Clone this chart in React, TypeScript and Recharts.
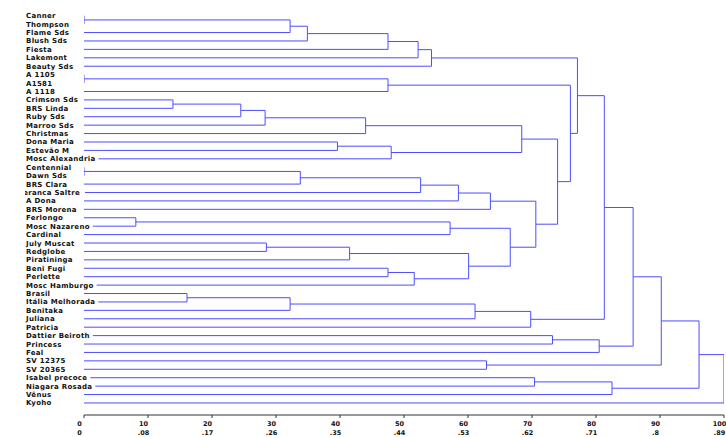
import { Scatter, ScatterChart, XAxis, YAxis } from "recharts"

// leaves top to bottom
const leaves = [
  "Canner", "Thompson", "Flame Sds", "Blush Sds", "Fiesta", "Lakemont", "Beauty Sds",
  "A 1105", "A1581", "A 1118", "Crimson Sds", "BRS Linda", "Ruby Sds", "Marroo Sds",
  "Christmas", "Dona Maria", "Estevão M", "Mosc Alexandria", "Centennial", "Dawn Sds",
  "BRS Clara", "Esperanca Saltre", "A Dona", "BRS Morena", "Ferlongo", "Mosc Nazareno",
  "Cardinal", "July Muscat", "Redglobe", "Piratininga", "Beni Fugi", "Perlette",
  "Mosc Hamburgo", "Brasil", "Itália Melhorada", "Benitaka", "Juliana", "Patricia",
  "Dattier Beiroth", "Princess", "Feal", "SV 12375", "SV 20365", "Isabel precoce",
  "Niagara Rosada", "Vênus", "Kyoho",
]

// joined clusters: leaf index, or 47 + row for an earlier join
const pairs: [number, number][] = [
  [0, 1], [47, 2], [48, 3], [49, 4], [50, 5], [51, 6],
  [7, 8], [53, 9],
  [10, 11], [55, 12], [56, 13], [57, 14],
  [15, 16], [59, 17], [58, 60],
  [18, 19], [62, 20], [63, 21], [64, 22], [65, 23],
  [24, 25], [67, 26],
  [27, 28], [69, 29], [30, 31], [71, 32], [70, 72],
  [68, 73], [66, 74], [61, 75], [54, 76], [52, 77],
  [33, 34], [79, 35], [80, 36], [81, 37], [78, 82],
  [38, 39], [84, 40], [83, 85],
  [41, 42], [86, 87],
  [43, 44], [89, 45], [88, 90], [91, 46],
]

const heights = [
  0, 32.2, 34.9, 47.5, 52.2, 54.3,
  0, 47.5,
  13.9, 24.5, 28.3, 44.0,
  39.6, 48.0, 68.4,
  0, 33.8, 52.6, 58.5, 63.5,
  8.1, 57.2,
  28.5, 41.5, 47.5, 51.6, 60.1,
  66.6, 70.6, 74.0, 76.0, 77.1,
  16.1, 32.2, 61.1, 69.8, 81.3,
  73.2, 80.5, 85.8,
  62.9, 90.2,
  70.4, 82.5, 96.1, 100,
]

const distTicks = [0, 10, 20, 30, 40, 50, 60, 70, 80, 90, 100]
const simLabels = ["0", ".08", ".17", ".26", ".35", ".44", ".53", ".62", ".71", ".8", ".89"]

const LINE = "#4d4dff"
const FONT = "'DejaVu Sans', Verdana, sans-serif"
const LABEL_SIZE = 7
const SPACING = 0.3

let ctx: CanvasRenderingContext2D | null = null
function textWidth(s: string) {
  if (!ctx) ctx = document.createElement("canvas").getContext("2d")
  if (!ctx) return s.length * 4.5
  ctx.font = `bold ${LABEL_SIZE}px "DejaVu Sans"`
  return ctx.measureText(s).width + s.length * SPACING
}

function buildLinks() {
  const nodes = leaves.map((_, i) => ({ x: 0, y: i }))
  return pairs.map(([a, b], k) => {
    const h = heights[k]
    const na = nodes[a]
    const nb = nodes[b]
    nodes.push({ x: h, y: (na.y + nb.y) / 2 })
    return [
      { x: na.x, y: na.y },
      { x: h, y: na.y },
      { x: h, y: nb.y },
      { x: nb.x, y: nb.y },
    ]
  })
}

const links = buildLinks()

const labelStyle = {
  fontFamily: FONT,
  fontWeight: "bold" as const,
  fontSize: LABEL_SIZE,
  letterSpacing: SPACING,
}

function LeafTick(props: any) {
  const { y, payload } = props
  const name = leaves[payload.value]
  if (!name) return null
  // the long one is cut at the left edge in the original
  if (name === "Esperanca Saltre") {
    return (
      <g>
        <defs>
          <clipPath id="cut-label">
            <rect x={25} y={y - 6} width={60} height={12} />
          </clipPath>
        </defs>
        <rect x={25} y={y - 4} width={60} height={8} fill="#fff" />
        <text x={80} y={y + 2.5} textAnchor="end" clipPath="url(#cut-label)" style={labelStyle} fill="#111">
          {name}
        </text>
      </g>
    )
  }
  const w = textWidth(name)
  return (
    <g>
      <rect x={25} y={y - 4} width={w + 4} height={8} fill="#fff" />
      <text x={26} y={y + 2.5} style={labelStyle} fill="#111">
        {name}
      </text>
    </g>
  )
}

function DistTick(props: any) {
  const { x, y, index } = props
  return (
    <g style={{ fontFamily: FONT, fontWeight: "bold", fontSize: 6.5 }} fill="#111">
      <text x={x - 4.5} y={y + 6} textAnchor="middle">{distTicks[index]}</text>
      <text x={x - 4.5} y={y + 15} textAnchor="middle">{simLabels[index]}</text>
    </g>
  )
}

export default function App() {
  return (
    <div style={{ position: "absolute", left: 0, top: 0, background: "#fff" }}>
      <ScatterChart width={726} height={437} margin={{ top: 11.5, right: 2, bottom: 0, left: 0 }}>
        {links.map((pts, i) => (
          <Scatter
            key={i}
            data={pts}
            line={{ stroke: LINE, strokeWidth: 1 }}
            shape={() => <g />}
            isAnimationActive={false}
          />
        ))}
        <XAxis
          dataKey="x"
          type="number"
          domain={[0, 100]}
          ticks={distTicks}
          interval={0}
          height={22}
          tickSize={3}
          axisLine={{ stroke: "#333" }}
          tickLine={{ stroke: "#333" }}
          tick={<DistTick />}
          allowDataOverflow
        />
        <YAxis
          dataKey="y"
          type="number"
          reversed
          domain={[-0.5, 47.43]}
          ticks={leaves.map((_, i) => i)}
          interval={0}
          width={84}
          axisLine={false}
          tickLine={false}
          tick={<LeafTick />}
          allowDataOverflow
        />
      </ScatterChart>
    </div>
  )
}
